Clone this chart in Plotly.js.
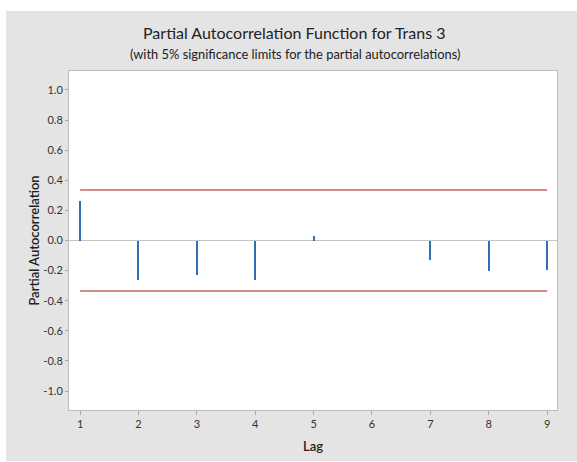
<!DOCTYPE html>
<html>
<head>
<meta charset="utf-8">
<script src="https://cdn.plot.ly/plotly-3.0.1.min.js"></script>
<style>html,body{margin:0;padding:0;background:#fff;}#chart{width:577px;height:462px;}</style>
</head>
<body>
<div id="chart"></div>
<script>
// Data
var lags = [1, 2, 3, 4, 5, 6, 7, 8, 9];
var pacf = [0.265, -0.263, -0.232, -0.263, 0.031, 0.0, -0.132, -0.205, -0.194];
var upperLimit = 0.336;
var lowerLimit = -0.336;
var yTickValues = [-1.0, -0.8, -0.6, -0.4, -0.2, 0.0, 0.2, 0.4, 0.6, 0.8, 1.0];
var yTickLabels = ['-1.0', '-0.8', '-0.6', '-0.4', '-0.2', '0.0', '0.2', '0.4', '0.6', '0.8', '1.0'];
var titleText = 'Partial Autocorrelation Function for Trans 3';
var subtitleText = '(with 5% significance limits for the partial autocorrelations)';
var xTitle = 'Lag';
var yTitle = 'Partial Autocorrelation';

var FONT = 'Lato, "Open Sans", sans-serif';

var traces = [
  {
    type: 'bar',
    x: lags,
    y: pacf,
    width: 0.034,
    marker: {color: '#2e6fb7', line: {width: 0}},
    hoverinfo: 'x+y',
    showlegend: false
  },
  {
    type: 'scatter',
    mode: 'lines',
    x: [lags[0], lags[lags.length - 1]],
    y: [upperLimit, upperLimit],
    line: {color: '#d38a8a', width: 2},
    showlegend: false
  },
  {
    type: 'scatter',
    mode: 'lines',
    x: [lags[0], lags[lags.length - 1]],
    y: [lowerLimit, lowerLimit],
    line: {color: '#d38a8a', width: 2},
    showlegend: false
  }
];

var layout = {
  width: 577,
  height: 462,
  margin: {l: 69, r: 20, t: 71, b: 52, pad: 0},
  paper_bgcolor: '#ffffff',
  plot_bgcolor: '#ffffff',
  font: {family: FONT, color: '#333333', size: 11},
  title: {
    text: titleText,
    font: {family: FONT, size: 16, color: '#222222'},
    x: 0.51, xref: 'container', xanchor: 'center',
    y: 1 - 33 / 462, yref: 'container', yanchor: 'middle'
  },
  annotations: [{
    text: subtitleText,
    xref: 'paper', yref: 'paper',
    x: (295 - 69) / 488, y: 1 + (71 - 54) / 339,
    xanchor: 'center', yanchor: 'middle',
    showarrow: false,
    font: {family: FONT, size: 12.9, color: '#222222'}
  }],
  shapes: [
    {
      type: 'rect', xref: 'paper', yref: 'paper', layer: 'below',
      x0: (6 - 69) / 488, x1: (580 - 69) / 488,
      y0: (410 - 461) / 339, y1: 1 + (71 - 11) / 339,
      fillcolor: '#e4e4e4', line: {width: 0}
    },
    {
      type: 'rect', xref: 'x domain', yref: 'y domain', layer: 'below',
      x0: 0, x1: 1, y0: 0, y1: 1,
      fillcolor: '#ffffff', line: {width: 0}
    }
  ],
  xaxis: {
    range: [0.81, 9.17],
    tickvals: lags,
    ticktext: lags.map(String),
    ticks: 'outside', ticklen: 4, tickwidth: 1, tickcolor: '#a8a8a8',
    showline: true, linecolor: '#bdbdbd', linewidth: 1, mirror: true,
    showgrid: false, zeroline: false,
    tickfont: {family: FONT, size: 11, color: '#333333'},
    title: {text: xTitle, font: {family: FONT, size: 13, color: '#222222', weight: 600}, standoff: 12}
  },
  yaxis: {
    range: [-1.126, 1.126],
    tickvals: yTickValues,
    ticktext: yTickLabels,
    ticks: 'outside', ticklen: 3, tickwidth: 1, tickcolor: '#a8a8a8',
    showline: true, linecolor: '#bdbdbd', linewidth: 1, mirror: true,
    showgrid: false,
    zeroline: true, zerolinecolor: '#c4c4c4', zerolinewidth: 1,
    tickfont: {family: FONT, size: 11, color: '#333333'},
    title: {text: yTitle, font: {family: FONT, size: 13, color: '#222222', weight: 600}, standoff: 0}
  },
  bargap: 0
};

Plotly.newPlot('chart', traces, layout, {displayModeBar: false, staticPlot: true});
</script>
</body>
</html>
